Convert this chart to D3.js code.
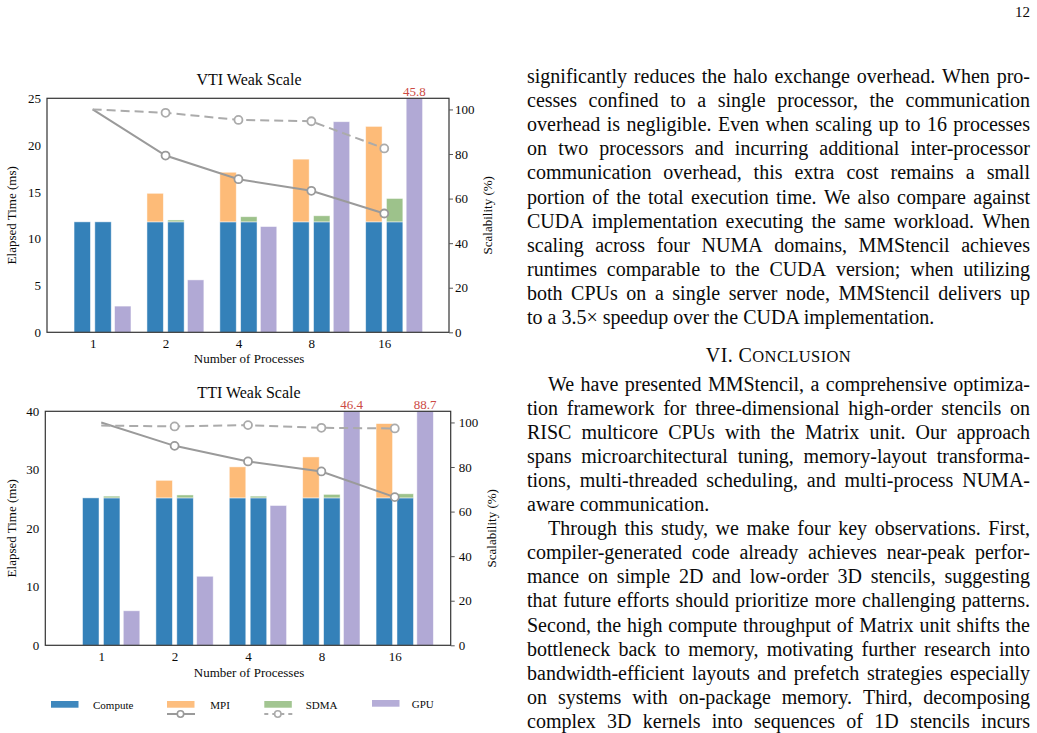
<!DOCTYPE html>
<html>
<head>
<meta charset="utf-8">
<script src="https://cdn.jsdelivr.net/npm/d3@7/dist/d3.min.js"></script>
<style>
  body { margin: 0; background: #fff; }
  svg text { font-family: "Liberation Serif", "DejaVu Serif", serif; fill: #0a0a0a; }
</style>
</head>
<body>
<div id="page"></div>
<script>
// ---- data ----
var procs = ["1", "2", "4", "8", "16"];
var seriesNames = ["Compute", "MPI", "SDMA", "GPU"];
var seriesColors = ["#3481b9", "#fdbb78", "#9dc28b", "#b1a9d5"];

var vtiCompute = [11.8, 11.8, 11.8, 11.8, 11.8];
var vtiMpi = [0, 3.05, 5.3, 6.7, 10.2];
var vtiSdma = [0, 0.2, 0.55, 0.65, 2.5];
var vtiGpu = [2.8, 5.6, 11.3, 22.5, 45.8];
var vtiScalMpi = [100, 79.3, 68.7, 63.5, 53.3];
var vtiScalSdma = [100, 98.5, 95.3, 94.7, 82.5];

var ttiCompute = [25.2, 25.2, 25.2, 25.2, 25.2];
var ttiMpi = [0, 3.0, 5.3, 7.0, 12.7];
var ttiSdma = [0.3, 0.5, 0.3, 0.6, 0.7];
var ttiGpu = [5.9, 11.8, 23.9, 46.4, 88.7];
var ttiScalMpi = [100, 89.5, 82.5, 78.0, 66.5];
var ttiScalSdma = [98.6, 98.2, 98.8, 97.6, 97.3];

var vtiTicks = [0, 5, 10, 15, 20, 25];
var ttiTicks = [0, 10, 20, 30, 40];
var scalTicks = [0, 20, 40, 60, 80, 100];

var para1 = [
  "significantly reduces the halo exchange overhead. When pro-",
  "cesses confined to a single processor, the communication",
  "overhead is negligible. Even when scaling up to 16 processes",
  "on two processors and incurring additional inter-processor",
  "communication overhead, this extra cost remains a small",
  "portion of the total execution time. We also compare against",
  "CUDA implementation executing the same workload. When",
  "scaling across four NUMA domains, MMStencil achieves",
  "runtimes comparable to the CUDA version; when utilizing",
  "both CPUs on a single server node, MMStencil delivers up",
  "to a 3.5\u00d7 speedup over the CUDA implementation."
];
var para2 = [
  "We have presented MMStencil, a comprehensive optimiza-",
  "tion framework for three-dimensional high-order stencils on",
  "RISC multicore CPUs with the Matrix unit. Our approach",
  "spans microarchitectural tuning, memory-layout transforma-",
  "tions, multi-threaded scheduling, and multi-process NUMA-",
  "aware communication."
];
var para3 = [
  "Through this study, we make four key observations. First,",
  "compiler-generated code already achieves near-peak perfor-",
  "mance on simple 2D and low-order 3D stencils, suggesting",
  "that future efforts should prioritize more challenging patterns.",
  "Second, the high compute throughput of Matrix unit shifts the",
  "bottleneck back to memory, motivating further research into",
  "bandwidth-efficient layouts and prefetch strategies especially",
  "on systems with on-package memory. Third, decomposing",
  "complex 3D kernels into sequences of 1D stencils incurs"
];

var svg = d3.select("#page").append("svg")
    .attr("width", 1037)
    .attr("height", 733);
svg.append("rect").attr("width", 1037).attr("height", 733).attr("fill", "#fff");

var drawChart = function(cfg, id) {
    var x = d3.scaleLinear().domain(cfg.xlim).range([cfg.left, cfg.right]);
    var y = d3.scaleLinear().domain([0, cfg.ymax]).range([cfg.bottom, cfg.top]);
    var y2 = d3.scaleLinear().domain([0, 105]).range([cfg.bottom, cfg.top]);
    var slot = 0.285, bw = 0.225;

    var g = svg.append("g");
    g.append("clipPath").attr("id", "clip" + id)
	.append("rect")
	.attr("x", cfg.left).attr("y", cfg.top)
	.attr("width", cfg.right - cfg.left).attr("height", cfg.bottom - cfg.top);

    var bars = [];
    procs.forEach(function(p, i) {
	var c = cfg.compute[i];
	bars.push({xc: i - slot / 2, y0: 0, y1: c, k: 0});
	if (cfg.mpi[i] > 0) bars.push({xc: i - slot / 2, y0: c, y1: c + cfg.mpi[i], k: 1});
	bars.push({xc: i + slot / 2, y0: 0, y1: c, k: 0});
	if (cfg.sdma[i] > 0) bars.push({xc: i + slot / 2, y0: c, y1: c + cfg.sdma[i], k: 2});
	bars.push({xc: i + 1.45 * slot, y0: 0, y1: cfg.gpu[i], k: 3});
    });

    g.append("g").attr("clip-path", "url(#clip" + id + ")")
	.selectAll("rect").data(bars).enter()
	.append("rect")
	.attr("x", function(d) { return x(d.xc - bw / 2); })
	.attr("y", function(d) { return y(d.y1); })
	.attr("width", function(d) { return x(bw) - x(0); })
	.attr("height", function(d) { return y(d.y0) - y(d.y1); })
	.attr("fill", function(d) { return seriesColors[d.k]; })
	.attr("stroke", "#fff")
	.attr("stroke-opacity", 0.6)
	.attr("stroke-width", 0.8);

    // values above the axis limit
    g.selectAll(".over").data(cfg.gpu.map(function(v, i) { return {v: v, i: i}; })
			       .filter(function(d) { return d.v > cfg.ymax; }))
	.enter().append("text")
	.attr("x", function(d) { return x(d.i + 1.45 * slot); })
	.attr("y", cfg.top - 2.5)
	.attr("text-anchor", "middle")
	.style("font-size", "13px")
	.style("fill", "#cc4a44")
	.text(function(d) { return d3.format(".1f")(d.v); });

    // scalability lines
    var lineGen = d3.line()
	.x(function(d, i) { return x(i); })
	.y(function(d) { return y2(d); });
    [[cfg.scalMpi, null, "#9a9a9a"], [cfg.scalSdma, "9,5", "#ababab"]].forEach(function(s) {
	g.append("path")
	    .attr("d", lineGen(s[0]))
	    .attr("fill", "none")
	    .attr("stroke", s[2])
	    .attr("stroke-width", 2)
	    .attr("stroke-dasharray", s[1]);
	g.selectAll(null).data(s[0].slice(1)).enter()
	    .append("circle")
	    .attr("cx", function(d, i) { return x(i + 1); })
	    .attr("cy", function(d) { return y2(d); })
	    .attr("r", 4)
	    .attr("fill", "#fff")
	    .attr("stroke", s[2])
	    .attr("stroke-width", 1.8);
    });

    // frame
    g.append("rect")
	.attr("x", cfg.left).attr("y", cfg.top)
	.attr("width", cfg.right - cfg.left).attr("height", cfg.bottom - cfg.top)
	.attr("fill", "none").attr("stroke", "#333").attr("stroke-width", 1.2);

    var ya = g.append("g").attr("transform", "translate(" + cfg.left + ",0)")
	.call(d3.axisLeft(y).tickValues(cfg.ticks).tickSize(0).tickPadding(6));
    var yb = g.append("g").attr("transform", "translate(" + cfg.right + ",0)")
	.call(d3.axisRight(y2).tickValues(scalTicks).tickSize(4).tickPadding(cfg.rpad));
    var xa = g.append("g").attr("transform", "translate(0," + cfg.bottom + ")")
	.call(d3.axisBottom(x).tickValues([0, 1, 2, 3, 4])
	      .tickFormat(function(d) { return procs[d]; })
	      .tickSize(0).tickPadding(6.5));
    [ya, yb, xa].forEach(function(a) {
	a.attr("font-family", null);
	a.select(".domain").remove();
	a.selectAll("text").style("font-size", "13px").attr("fill", "#111");
	a.selectAll("line").attr("stroke", "#555");
    });

    g.append("text")
	.attr("x", (cfg.left + cfg.right) / 2 + 1).attr("y", cfg.titleY)
	.attr("text-anchor", "middle").style("font-size", "16px")
	.text(cfg.title);
    g.append("text")
	.attr("x", (cfg.left + cfg.right) / 2 + 1).attr("y", cfg.xlabY)
	.attr("text-anchor", "middle").style("font-size", "13px")
	.text("Number of Processes");
    g.append("text")
	.attr("transform", "translate(16," + ((cfg.top + cfg.bottom) / 2) + ") rotate(-90)")
	.attr("text-anchor", "middle").style("font-size", "13px")
	.text("Elapsed Time (ms)");
    g.append("text")
	.attr("transform", "translate(" + cfg.rlabX + "," + ((cfg.top + cfg.bottom) / 2) + ") rotate(-90)")
	.attr("text-anchor", "middle").style("font-size", "13px")
	.text("Scalability (%)");
}

drawChart({title: "VTI Weak Scale", compute: vtiCompute, mpi: vtiMpi, sdma: vtiSdma, gpu: vtiGpu,
	   scalMpi: vtiScalMpi, scalSdma: vtiScalSdma, ticks: vtiTicks, ymax: 25,
	   left: 47, right: 449, top: 98.3, bottom: 332.3, xlim: [-0.626, 4.888],
	   titleY: 85, xlabY: 362.5, rlabX: 491.5, rpad: 2}, 1);

drawChart({title: "TTI Weak Scale", compute: ttiCompute, mpi: ttiMpi, sdma: ttiSdma, gpu: ttiGpu,
	   scalMpi: ttiScalMpi, scalSdma: ttiScalSdma, ticks: ttiTicks, ymax: 40,
	   left: 45.3, right: 450.7, top: 411.3, bottom: 645.3, xlim: [-0.762, 4.762],
	   titleY: 398, xlabY: 677, rlabX: 496, rpad: 4}, 2);

// legend
var leg = svg.append("g");
var legX = [51, 167, 264.3, 372];
var legTx = [93, 210.3, 305.7, 411.7];
seriesNames.forEach(function(n, i) {
    var yy = i == 3 ? 700 : 701;
    leg.append("rect").attr("x", legX[i]).attr("y", yy).attr("width", 27.5).attr("height", 6.7)
	.attr("fill", seriesColors[i]).attr("opacity", 0.95);
    leg.append("text").attr("x", legTx[i]).attr("y", yy + 7.5)
	.style("font-size", "11px").text(n);
});
[[167, null, "#9a9a9a"], [264.3, "4,4", "#ababab"]].forEach(function(s) {
    leg.append("line").attr("x1", s[0]).attr("x2", s[0] + 28).attr("y1", 714).attr("y2", 714)
	.attr("stroke", s[2]).attr("stroke-width", 2).attr("stroke-dasharray", s[1]);
    leg.append("circle").attr("cx", s[0] + 13.5).attr("cy", 714).attr("r", 3.2)
	.attr("fill", "#fff").attr("stroke", s[2]).attr("stroke-width", 1.6);
});

// ---- text column ----
var txt = svg.append("g").style("font-size", "20px");
var colL = 527, colR = 1030, lead = 24.1;

var drawLine = function(s, x0, y, justify) {
    if (!justify) {
	txt.append("text").attr("x", x0).attr("y", y).text(s);
	return;
    }
    var words = s.split(" ");
    var nodes = words.map(function(w) { return txt.append("text").attr("y", y).text(w); });
    var widths = nodes.map(function(n) { return n.node().getComputedTextLength(); });
    var gap = (colR - x0 - d3.sum(widths)) / (words.length - 1);
    var xx = x0;
    nodes.forEach(function(n, i) { n.attr("x", xx); xx += widths[i] + gap; });
}

var drawPara = function(lines, y0, indent, lastJustified) {
    lines.forEach(function(s, i) {
	var last = i == lines.length - 1;
	drawLine(s, i == 0 ? colL + indent : colL, y0 + i * lead, !last || lastJustified);
    });
}

drawPara(para1, 83, 0, false);
var head = txt.append("text").attr("x", (colL + colR) / 2).attr("y", 362)
    .attr("text-anchor", "middle").attr("letter-spacing", 0.4);
head.append("tspan").text("VI. C");
head.append("tspan").style("font-size", "16.5px").text("ONCLUSION");
drawPara(para2, 390.5, 21, false);
drawPara(para3, 390.5 + 6 * lead, 21, true);

svg.append("text").attr("x", 1030).attr("y", 17).attr("text-anchor", "end")
    .style("font-size", "15px").text("12");
</script>
</body>
</html>
